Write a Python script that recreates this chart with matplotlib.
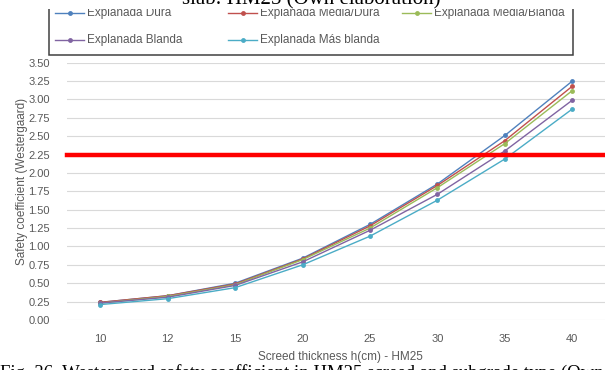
import matplotlib
matplotlib.use("Agg")
import matplotlib.pyplot as plt
from matplotlib.patches import Rectangle
from matplotlib.lines import Line2D

# Screed thickness categories (cm)
thickness = ["10", "12", "15", "20", "25", "30", "35", "40"]

# Westergaard safety coefficient per subgrade type
dura = [0.24, 0.33, 0.50, 0.84, 1.30, 1.85, 2.51, 3.25]
media_dura = [0.24, 0.33, 0.49, 0.83, 1.28, 1.83, 2.44, 3.18]
media_blanda = [0.23, 0.32, 0.48, 0.82, 1.25, 1.80, 2.40, 3.12]
blanda = [0.23, 0.31, 0.47, 0.79, 1.22, 1.71, 2.30, 2.99]
mas_blanda = [0.21, 0.29, 0.44, 0.75, 1.14, 1.63, 2.19, 2.87]

series_names = ["Explanada Dura", "Explanada Media/Dura", "Explanada Media/Blanda",
                "Explanada Blanda", "Explanada Más blanda"]
series_values = [dura, media_dura, media_blanda, blanda, mas_blanda]
series_colors = ["#4F81BD", "#C0504D", "#9BBB59", "#8064A2", "#4BACC6"]

threshold = 2.25
y_ticks = [i * 0.25 for i in range(15)]

W, H = 605, 370
fig = plt.figure(figsize=(W / 100, H / 100), dpi=100)
fig.patch.set_facecolor("white")

def fx(px):
    return px / W

def fy(py):
    return 1 - py / H

TXT = "#595959"
SANS = "Liberation Sans"
SERIF = "Liberation Serif"

ax = fig.add_axes([fx(66.5), fy(320), fx(606) - fx(66.5), fy(62.7) - fy(320)])
x = list(range(len(thickness)))
for name, vals, col in zip(series_names, series_values, series_colors):
    ax.plot(x, vals, color=col, lw=1.0, marker="o", ms=3.5,
            markeredgewidth=0, zorder=3, label=name)
ax.axhline(threshold, color="#FF0000", lw=3.2, zorder=4, clip_on=False)

ax.set_xlim(-0.5, 7.5)
ax.set_ylim(0, 3.5)
ax.set_yticks(y_ticks)
ax.set_yticklabels([f"{v:.2f}" for v in y_ticks])
ax.set_xticks(x)
ax.set_xticklabels(thickness)
ax.grid(axis="y", color="#D9D9D9", lw=0.8, zorder=0)
ax.set_axisbelow(True)
for s in ax.spines.values():
    s.set_visible(False)
ax.tick_params(axis="both", length=0, labelcolor=TXT, labelsize=8)
ax.tick_params(axis="y", pad=12)
ax.tick_params(axis="x", pad=10)
for lab in ax.get_xticklabels() + ax.get_yticklabels():
    lab.set_fontfamily(SANS)

fig.text(fx(22), fy(181), "Safety coefficient (Westergaard)", rotation=90,
         ha="center", va="center", color=TXT, fontsize=8.5, family=SANS)
fig.text(fx(340), fy(357), "Screed thickness h(cm) - HM25",
         ha="center", va="center", color=TXT, fontsize=8.5, family=SANS)

# Legend box with manually placed entries
fig.patches.append(Rectangle((fx(49), fy(54.5)), fx(573) - fx(49), fy(5) - fy(54.5),
                             transform=fig.transFigure, facecolor="white",
                             edgecolor="#404040", lw=1.1, zorder=5))
entries_pos = [(55, 13), (228, 13), (402, 13), (55, 40), (228, 40)]
for (px, py), name, col in zip(entries_pos, series_names, series_colors):
    fig.lines.append(Line2D([fx(px), fx(px + 29)], [fy(py), fy(py)],
                            transform=fig.transFigure, color=col, lw=1.0, zorder=6))
    fig.lines.append(Line2D([fx(px + 14.5)], [fy(py)], transform=fig.transFigure,
                            color=col, marker="o", ms=3.5, markeredgewidth=0, zorder=6))
    fig.text(fx(px + 32), fy(py), name, ha="left", va="center", color=TXT,
             fontsize=8.5, family=SANS, zorder=6)

# Caption strip at the top
fig.patches.append(Rectangle((0, fy(9)), 1, fy(0) - fy(9), transform=fig.transFigure,
                             facecolor="white", edgecolor="none", zorder=7))
fig.text(fx(311), fy(4.5), "slab: HM25 (Own elaboration)", ha="center",
         va="baseline", fontsize=15, family=SERIF, color="black", zorder=8)

# Caption below the chart
fig.text(fx(0), fy(364.5), "Fig. 36. Westergaard safety coefficient in HM25 screed and subgrade type (Own elaboration)",
         ha="left", va="top", fontsize=13.5, family=SERIF, color="black")

fig.savefig("out.png", dpi=100, facecolor="white")
